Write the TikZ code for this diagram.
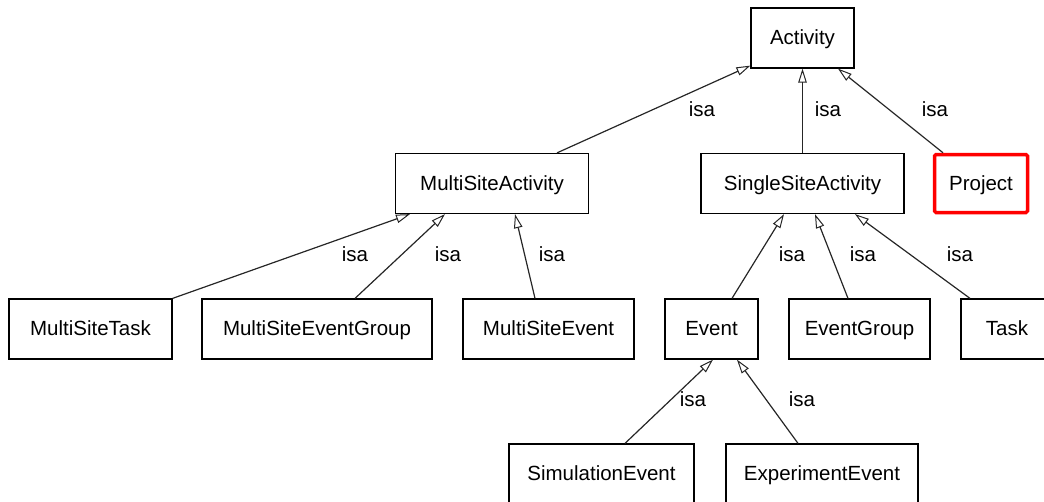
\documentclass[tikz,border=0pt]{standalone}
\usepackage{fontspec}
\setmainfont{Liberation Sans}
\usetikzlibrary{arrows.meta,calc}

\begin{document}
\begin{tikzpicture}[x=1pt,y=-1pt,
  every node/.style={font=\fontsize{20.5}{24}\selectfont, inner sep=0pt,
    text height=14pt, text depth=1pt},
  cls/.style={draw=black, line width=1.25pt, fill=white, minimum height=60pt},
  sel/.style={draw=red, line width=3.5pt, rounded corners=1.5pt, fill=white, minimum height=58pt},
  isa/.style={draw=black!85, line width=1.2pt,
    -{Triangle[open, length=14pt, width=8.5pt, line width=1pt]}},
  lbl/.style={text=black}
]
\useasboundingbox (0,0) rectangle (1044,501);
\clip (0,0) rectangle (1044,501);

% classes
\node[cls, minimum width=103pt] (act)  at (802.5,38)  {Activity};
\node[cls, minimum width=193pt] (msa)  at (492,183.5) {MultiSiteActivity};
\node[cls, minimum width=203pt] (ssa)  at (802.5,183.5) {SingleSiteActivity};
\node[sel, minimum width=93pt]  (proj) at (981,183.5) {Project};

\node[cls, minimum width=163pt] (mst)  at (90.5,329)  {MultiSiteTask};
\node[cls, minimum width=230pt] (mseg) at (317,329)   {MultiSiteEventGroup};
\node[cls, minimum width=171pt] (mse)  at (548.5,329) {MultiSiteEvent};
\node[cls, minimum width=93pt]  (ev)   at (711.5,329) {Event};
\node[cls, minimum width=141pt] (eg)   at (859.5,329) {EventGroup};
\node[cls, minimum width=92pt]  (task) at (1007,329)  {Task};

\node[cls, minimum width=185pt] (sim)  at (601.5,474) {SimulationEvent};
\node[cls, minimum width=192pt] (exp)  at (822,474)   {ExperimentEvent};

% generalisation links
\draw[isa] ([xshift=65pt]msa.north) -- ([yshift=3pt]act.south west);
\draw[isa] (ssa.north) -- (act.south);
\draw[isa] ([xshift=-38pt]proj.north) -- ([xshift=35.5pt]act.south);

\draw[isa] (mst.north east) -- ([xshift=-82pt]msa.south);
\draw[isa] ([xshift=38pt]mseg.north) -- ([xshift=-47pt]msa.south);
\draw[isa] ([xshift=-13.5pt]mse.north) -- ([xshift=23pt]msa.south);

\draw[isa] ([xshift=20.5pt]ev.north) -- ([xshift=-18.5pt]ssa.south);
\draw[isa] ([xshift=-11.5pt]eg.north) -- ([xshift=12.5pt]ssa.south);
\draw[isa] ([xshift=-37pt]task.north) -- ([xshift=52.5pt]ssa.south);

\draw[isa] ([xshift=23.5pt]sim.north) -- ([xshift=1.5pt]ev.south);
\draw[isa] ([xshift=-24pt]exp.north) -- ([xshift=25.5pt]ev.south);

% link labels
\node[lbl] (l1)  at (702,110) {isa};
\node[lbl] (l2)  at (828,110) {isa};
\node[lbl] (l3)  at (935,110) {isa};
\node[lbl] (l4)  at (355,255) {isa};
\node[lbl] (l5)  at (448,255) {isa};
\node[lbl] (l6)  at (552,255) {isa};
\node[lbl] (l7)  at (792,255) {isa};
\node[lbl] (l8)  at (863,255) {isa};
\node[lbl] (l9)  at (960,255) {isa};
\node[lbl] (l10) at (693,400) {isa};
\node[lbl] (l11) at (802,400) {isa};
\end{tikzpicture}
\end{document}
